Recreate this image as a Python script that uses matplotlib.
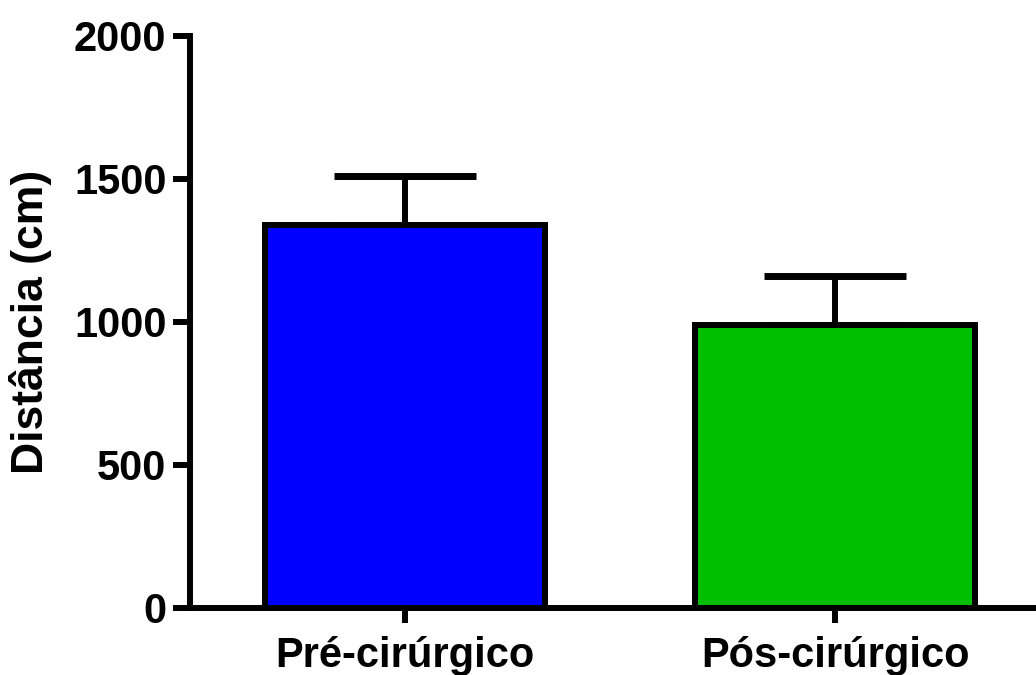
import matplotlib
matplotlib.use("Agg")
import matplotlib.pyplot as plt

# group means and SEM (distance travelled, cm)
groups = ["Pré-cirúrgico", "Pós-cirúrgico"]
means = [1340, 988]
sem = [172, 172]
colors = ["#0000FF", "#00BF00"]
yticks = [0, 500, 1000, 1500, 2000]

plt.rcParams["font.family"] = ["Liberation Sans", "DejaVu Sans"]
plt.rcParams["font.weight"] = "bold"

fig = plt.figure(figsize=(10.36, 6.75), dpi=100)
ax = fig.add_axes([0.1834, 0.0993, 0.8166, 0.8474])

x = range(len(groups))
ax.bar(x, means, width=0.65, color=colors, edgecolor="black", linewidth=4.3, zorder=2)
# upper error bars only
ax.errorbar(x, means, yerr=[[0, 0], sem], fmt="none", ecolor="black",
            elinewidth=4.3, capsize=51, capthick=5, zorder=1)

ax.set_xlim(-0.5, 1.467)
ax.set_ylim(0, 2000)
ax.set_yticks(yticks)
ax.set_xticks(list(x))
ax.set_xticklabels(groups)
ax.set_ylabel("Distância (cm)", fontsize=32, fontweight="bold", labelpad=16)

for side in ["top", "right"]:
    ax.spines[side].set_visible(False)
for side in ["left", "bottom"]:
    ax.spines[side].set_linewidth(4.3)

ax.tick_params(axis="both", width=4.3, length=12, labelsize=30, pad=5)
ax.tick_params(axis="x", length=11, pad=9)
for lab in ax.get_xticklabels() + ax.get_yticklabels():
    lab.set_fontweight("bold")

fig.savefig("out.png", dpi=100)
